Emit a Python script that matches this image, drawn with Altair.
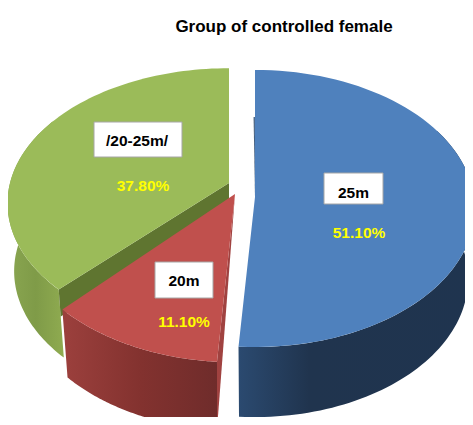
import numpy as np
import altair as alt

# --- chart values ---
categories = ["25m", "20m", "/20-25m/"]
shares = [51.1, 11.1, 37.8]
pct_labels = ["51.10%", "11.10%", "37.80%"]
title_text = "Group of controlled female"

# --- scene geometry of the 3D pie (picture pixels) ---
APEX = {"25m": (255, 197), "20m": (235, 194), "/20-25m/": (229, 183)}
RX = {"25m": 219, "20m": 222, "/20-25m/": 219}
RY = {"25m": 137.6, "20m": 143, "/20-25m/": 132}
PERSP = {"25m": 0.083, "20m": 0.15, "/20-25m/": 0.15}
DEPTH = {"25m": 70, "20m": 68, "/20-25m/": 68}
BOTTOM_SHRINK = 0.97


def angles():
    cum = np.cumsum([0] + shares) / sum(shares) * 2 * np.pi
    return {c: (cum[i], cum[i + 1]) for i, c in enumerate(categories)}


ANG = angles()


def rim(cat, t0, t1, depth=0.0, shrink=1.0, n=80):
    t = np.linspace(t0, t1, n)
    u, v = np.sin(t), -np.cos(t)
    s = 1 / (1 - PERSP[cat] * v)
    ax, ay = APEX[cat]
    x = ax + RX[cat] * shrink * u * s
    y = ay + RY[cat] * v * s + depth
    return list(zip(x.tolist(), y.tolist()))


def poly(points):
    pts = [list(map(float, p)) for p in points]
    pts.append(pts[0])
    return {"type": "Feature", "properties": {}, "geometry": {"type": "Polygon", "coordinates": [pts]}}


proj = alt.Projection(type="identity", scale=1, translate=[-8, -8])


def shape(points, fill):
    data = alt.InlineData(
        values={"type": "FeatureCollection", "features": [poly(points)]},
        format=alt.DataFormat(property="features", type="json"),
    )
    return alt.Chart(data).mark_geoshape(fill=fill, strokeWidth=0).project(**proj.to_dict())


def grad(stops):
    return alt.Gradient(
        gradient="linear", x1=0, x2=1, y1=0, y2=0,
        stops=[alt.GradientStop(color=c, offset=o) for o, c in stops],
    )


def top_face(cat):
    a0, a1 = ANG[cat]
    return [APEX[cat]] + rim(cat, a0, a1)


def wall(cat, t0, t1):
    d = DEPTH[cat]
    return rim(cat, t0, t1) + rim(cat, t0, t1, d, BOTTOM_SHRINK)[::-1]


b0, b1 = ANG["25m"]
r0, r1 = ANG["20m"]
g0, g1 = ANG["/20-25m/"]

layers = []
# green
layers.append(shape(wall("/20-25m/", g0, np.radians(300)),
                    grad([(0, "#8aa651"), (0.5, "#7f9b48"), (1, "#8fab50")])))
gc = rim("/20-25m/", g0, g0, n=1)[0]
ga = APEX["/20-25m/"]
layers.append(shape([ga, gc, (gc[0] + 2, gc[1] + 27), (ga[0], ga[1] + 27)], "#5f7530"))
layers.append(shape(top_face("/20-25m/"), "#9bbb59"))
# red
layers.append(shape(wall("20m", r0, r1), grad([(0, "#9c403d"), (0.5, "#83322f"), (1, "#6f2c2b")])))
rc = rim("20m", r0, r0, n=1)[0]
ra = APEX["20m"]
layers.append(shape([ra, rc, (rc[0], rc[1] + DEPTH["20m"])], "#a04240"))
layers.append(shape(top_face("20m"), "#c0504d"))
# blue
layers.append(shape(wall("25m", np.radians(60), b1),
                    grad([(0, "#2b4a70"), (0.3, "#20344e"), (1, "#1f344f")])))
ba = APEX["25m"]
layers.append(shape([ba, (ba[0] - 1.4, ba[1] - 80), (ba[0] - 0.2, ba[1] - 80)], "#2b4a70"))
layers.append(shape(top_face("25m"), "#4f81bd"))

W, H = 457, 409
xs = alt.Scale(domain=[8, 8 + W], range=[0, W])
ys = alt.Scale(domain=[8, 8 + H], range=[0, H])

box_x = [324, 155, 94]
box_x2 = [383, 213, 182]
box_y = [173, 262, 122]
box_y2 = [204, 298, 157]
label_x = [353.5, 184, 137]
label_y = [193, 281, 141]
pct_x = [359, 184, 143]
pct_y = [233, 322, 186]

boxes = alt.Data(values=[
    {"x": a, "x2": b, "y": c, "y2": d, "label": l, "lx": lx, "ly": ly, "pct": p, "px": px, "py": py}
    for a, b, c, d, l, lx, ly, p, px, py in zip(
        box_x, box_x2, box_y, box_y2, categories, label_x, label_y, pct_labels, pct_x, pct_y)
])
FONT = "Liberation Sans"
layers.append(alt.Chart(boxes).mark_rect(fill="white", stroke="#a6a6a6", strokeWidth=1).encode(
    x=alt.X("x:Q", scale=xs, axis=None), x2="x2:Q", y=alt.Y("y:Q", scale=ys, axis=None), y2="y2:Q"))
layers.append(alt.Chart(boxes).mark_text(font=FONT, fontWeight="bold", fontSize=15.5, color="black").encode(
    x=alt.X("lx:Q", scale=xs, axis=None), y=alt.Y("ly:Q", scale=ys, axis=None), text="label:N"))
layers.append(alt.Chart(boxes).mark_text(font=FONT, fontWeight="bold", fontSize=15.5, color="#ffff00").encode(
    x=alt.X("px:Q", scale=xs, axis=None), y=alt.Y("py:Q", scale=ys, axis=None), text="pct:N"))
layers.append(alt.Chart(alt.Data(values=[{"x": 284, "y": 26.5, "t": title_text}])).mark_text(
    font=FONT, fontWeight="bold", fontSize=17, color="black").encode(
    x=alt.X("x:Q", scale=xs, axis=None), y=alt.Y("y:Q", scale=ys, axis=None), text="t:N"))

chart = (
    alt.layer(*layers)
    .properties(width=W, height=H, padding=0, autosize=alt.AutoSizeParams(type="none"))
    .configure_view(stroke=None, strokeWidth=0)
)
chart.save("out.html", embed_options={"renderer": "svg", "actions": False})
